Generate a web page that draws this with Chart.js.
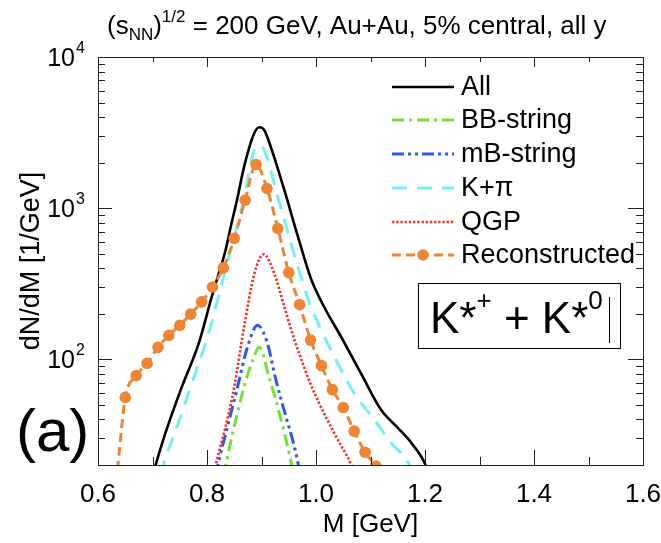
<!DOCTYPE html>
<html><head><meta charset="utf-8">
<script src="https://cdn.jsdelivr.net/npm/chart.js@4.4.1/dist/chart.umd.min.js"></script>
<style>html,body{margin:0;padding:0;background:#fff;overflow:hidden}#wrap{width:661px;height:543px}</style>
</head><body><div id="wrap"><canvas id="c" width="661" height="543"></canvas></div>
<script>
// ---- data ----
const massAll = [0.700, 0.7057, 0.723, 0.754, 0.785, 0.809, 0.834, 0.8435, 0.855, 0.868, 0.8866, 0.896, 0.905, 0.917, 0.942, 0.967, 0.991, 1.015, 1.0465, 1.083, 1.120, 1.151, 1.176, 1.200, 1.205];
const valAll  = [17, 20, 32, 66, 128, 262, 527, 751, 1130, 1876, 3126, 3430, 3290, 2546, 1315, 645, 340, 222, 140, 80, 46, 35, 27.7, 20.4, 18];

const massBB = [0.830, 0.8343, 0.8497, 0.868, 0.8835, 0.896, 0.914, 0.933, 0.951, 0.9555, 0.958];
const valBB  = [17, 20, 35.7, 65.6, 98, 120, 76, 43.7, 23.7, 20, 18];

const massMB = [0.816, 0.820, 0.8375, 0.856, 0.874, 0.893, 0.911, 0.9266, 0.945, 0.9606, 0.9677, 0.970];
const valMB  = [17, 20, 35.7, 65.6, 120, 168, 127, 72.6, 41.5, 26.2, 20, 18];

const massKpi = [0.716, 0.720, 0.7415, 0.778, 0.803, 0.821, 0.840, 0.850, 0.8583, 0.871, 0.8866, 0.895, 0.905, 0.930, 0.954, 0.9727, 0.985, 1.0096, 1.040, 1.071, 1.108, 1.139, 1.170, 1.175];
const valKpi  = [17, 20, 33, 80, 148, 259, 476, 640, 832, 1318, 2420, 2600, 2420, 1188, 583, 351, 252, 156, 94, 59, 39.4, 27.7, 20.4, 18];

const massQGP = [0.812, 0.816, 0.834, 0.850, 0.868, 0.887, 0.904, 0.9235, 0.942, 0.9606, 0.9727, 0.985, 1.005, 1.034, 1.065, 1.070];
const valQGP  = [17, 20, 35.7, 65.6, 164, 370, 495, 370, 222, 134, 101, 76, 52, 32.2, 20, 18];

// reconstructed: markers every 0.02 GeV
const massRec = [0.65, 0.67, 0.69, 0.71, 0.73, 0.75, 0.77, 0.79, 0.81, 0.83, 0.85, 0.87, 0.89, 0.91, 0.93, 0.95, 0.97, 0.99, 1.01, 1.03, 1.05, 1.07, 1.09, 1.11];
const valRec  = [56, 78, 94, 120, 144, 168, 199, 240, 301, 403, 632, 1130, 1945, 1349, 734, 375, 230, 134, 91, 63, 48, 33.5, 24.3, 19.7];
// line ends without markers
const massRecEnds = [0.634, 0.637, 0.643, 1.12];
const valRecEnds  = [15, 20.5, 34, 17];

const xTicks = [0.6, 0.7, 0.8, 0.9, 1.0, 1.1, 1.2, 1.3, 1.4, 1.5, 1.6];
const yExponents = [2, 3, 4];
const legendLabels = ['All', 'BB-string', 'mB-string', 'K+\u03c0', 'QGP', 'Reconstructed'];

const FONT = '"Liberation Sans", Arial, Helvetica, sans-serif';
const pts = (m, v) => m.map((x, i) => ({x: x, y: v[i]}));
const recPoints = pts(massRec.concat(massRecEnds), valRec.concat(valRecEnds)).sort((a, b) => a.x - b.x);
const recDotSet = new Set(massRec);

const COLORS = {
  all: '#000000', bb: '#6ee23a', mb: '#2a58ee', kpi: '#72f1f4', qgp: '#e8382c', rec: '#ef8433'
};

const common = {showLine: true, fill: false, cubicInterpolationMode: 'monotone', pointRadius: 0, pointHoverRadius: 0, clip: 0};
const datasets = [
  Object.assign({}, common, {label: 'Reconstructed', data: recPoints, borderColor: COLORS.rec, borderWidth: 3, borderDash: [9, 5],
    pointRadius: c => (c.raw && recDotSet.has(c.raw.x)) ? 5.8 : 0, pointBackgroundColor: COLORS.rec, pointBorderWidth: 0}),
  Object.assign({}, common, {label: 'All', data: pts(massAll, valAll), borderColor: COLORS.all, borderWidth: 2.6}),
  Object.assign({}, common, {label: 'K+\u03c0', data: pts(massKpi, valKpi), borderColor: COLORS.kpi, borderWidth: 3, borderDash: [15, 10]}),
  Object.assign({}, common, {label: 'QGP', data: pts(massQGP, valQGP), borderColor: COLORS.qgp, borderWidth: 2.6, borderDash: [2.4, 1.8]}),
  Object.assign({}, common, {label: 'mB-string', data: pts(massMB, valMB), borderColor: COLORS.mb, borderWidth: 3, borderDash: [12, 4, 3, 4, 3, 4]}),
  Object.assign({}, common, {label: 'BB-string', data: pts(massBB, valBB), borderColor: COLORS.bb, borderWidth: 3, borderDash: [12, 5, 3, 5]})
];

const framePlugin = {
  id: 'frame',
  afterDatasetsDraw(chart) {
    const {ctx, chartArea: a, scales: {x, y}} = chart;
    ctx.save();
    ctx.strokeStyle = '#222'; ctx.lineWidth = 1;
    ctx.beginPath();
    xTicks.forEach((v, i) => {
      const px = Math.round(x.getPixelForValue(v)) + 0.5;
      const major = (i % 2 === 0);
      ctx.moveTo(px, a.bottom); ctx.lineTo(px, a.bottom - (major ? 15 : 8));
      ctx.moveTo(px, a.top); ctx.lineTo(px, a.top + (major ? 10 : 5));
    });
    for (let e = 1; e <= 3; e++) {
      for (let k = 1; k <= 9; k++) {
        const v = k * Math.pow(10, e);
        if (v < 20 || v > 10000) continue;
        const py = Math.round(y.getPixelForValue(v)) + 0.5;
        const major = (k === 1);
        ctx.moveTo(a.left, py); ctx.lineTo(a.left + (major ? 14 : 7), py);
        ctx.moveTo(a.right, py); ctx.lineTo(a.right - (major ? 15 : 7), py);
      }
    }
    ctx.stroke();
    ctx.strokeRect(Math.round(a.left) + 0.5, Math.round(a.top) + 0.5, Math.round(a.right - a.left), Math.round(a.bottom - a.top));
    ctx.restore();
  }
};

function seg(ctx, st, text, font, dy) {
  ctx.font = font;
  ctx.fillText(text, st.x, st.y + dy);
  st.x += ctx.measureText(text).width;
}

const textPlugin = {
  id: 'texts',
  afterDraw(chart) {
    const {ctx, scales: {y}} = chart;
    ctx.save();
    ctx.fillStyle = '#000'; ctx.textAlign = 'left'; ctx.textBaseline = 'alphabetic';
    // title
    const st = {x: 107, y: 34};
    seg(ctx, st, '(s', '26px ' + FONT, 0);
    seg(ctx, st, 'NN', '17px ' + FONT, 6);
    seg(ctx, st, ')', '26px ' + FONT, 0);
    seg(ctx, st, '1/2', '17px ' + FONT, -12);
    seg(ctx, st, ' = 200 GeV, Au+Au, 5% central, all y', '26px ' + FONT, 0);
    // y tick labels 10^n
    yExponents.forEach(e => {
      const py = y.getPixelForValue(Math.pow(10, e));
      ctx.font = '25px ' + FONT; ctx.textAlign = 'right';
      ctx.fillText('10', 75, py + 9);
      ctx.font = '16px ' + FONT; ctx.textAlign = 'left';
      ctx.fillText(String(e), 76, py - 4);
    });
    // (a)
    ctx.font = '60px ' + FONT; ctx.textAlign = 'left';
    ctx.fillText('(a)', 16, 451);
    // legend
    const rows = [87, 120, 154, 188, 222, 255];
    legendLabels.forEach((lab, i) => {
      const ds = chart.data.datasets.find(d => d.label === lab);
      const ly = rows[i];
      ctx.save();
      ctx.strokeStyle = ds.borderColor; ctx.lineWidth = ds.borderWidth;
      ctx.setLineDash(ds.borderDash || []);
      ctx.beginPath(); ctx.moveTo(392, ly); ctx.lineTo(454, ly); ctx.stroke();
      if (lab === 'Reconstructed') {
        ctx.setLineDash([]); ctx.fillStyle = ds.borderColor;
        ctx.beginPath(); ctx.arc(423, ly, 5.8, 0, Math.PI * 2); ctx.fill();
      }
      ctx.restore();
      ctx.font = '27px ' + FONT; ctx.textAlign = 'left'; ctx.textBaseline = 'middle';
      ctx.fillText(lab, 461, ly + 1);
    });
    // K* box
    ctx.textBaseline = 'alphabetic';
    ctx.strokeStyle = '#000'; ctx.lineWidth = 1;
    ctx.strokeRect(418.5, 283.5, 202, 65);
    const kb = {x: 430, y: 333};
    seg(ctx, kb, 'K*', '44px ' + FONT, 0);
    seg(ctx, kb, '+', '26px ' + FONT, -24);
    seg(ctx, kb, ' + K*', '44px ' + FONT, 0);
    seg(ctx, kb, '0', '26px ' + FONT, -24);
    ctx.beginPath(); ctx.moveTo(609.5, 297); ctx.lineTo(609.5, 343); ctx.stroke();
    ctx.restore();
  }
};

new Chart(document.getElementById('c'), {
  type: 'line',
  data: {datasets: datasets},
  options: {
    responsive: false, animation: false, devicePixelRatio: 1,
    layout: {padding: {left: 0, top: 57, right: 18, bottom: 0}},
    plugins: {legend: {display: false}, tooltip: {enabled: false}, title: {display: false}},
    scales: {
      x: {
        type: 'linear', min: 0.6, max: 1.6,
        grid: {display: false}, border: {display: false},
        ticks: {stepSize: 0.2, autoSkip: false, maxRotation: 0, padding: 6, color: '#000',
          font: {size: 26, family: FONT}, callback: v => Number(v).toFixed(1)},
        title: {display: true, text: 'M [GeV]', color: '#000', font: {size: 26, family: FONT}, padding: {top: 0, bottom: 3}},
        afterFit: s => { s.height = 78; s.paddingLeft = 0; s.paddingRight = 0; }
      },
      y: {
        type: 'logarithmic', min: 20, max: 10000,
        grid: {display: false}, border: {display: false},
        ticks: {display: false},
        title: {display: true, text: 'dN/dM [1/GeV]', color: '#000', font: {size: 27, family: FONT}, padding: {top: 15, bottom: 0}},
        afterFit: s => { s.width = 98; s.paddingTop = 0; s.paddingBottom = 0; }
      }
    }
  },
  plugins: [framePlugin, textPlugin]
});
</script>
</body></html>
